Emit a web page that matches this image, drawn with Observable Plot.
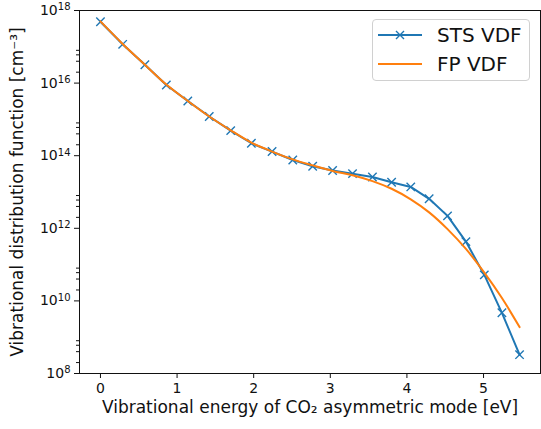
<!DOCTYPE html>
<html>
<head>
<meta charset="utf-8">
<script src="https://cdn.jsdelivr.net/npm/d3@7"></script>
<script src="https://cdn.jsdelivr.net/npm/@observablehq/plot@0.6"></script>
<style>
  html, body { margin: 0; padding: 0; background: white; }
  #wrap { position: relative; width: 541px; height: 429px; font-family: "DejaVu Sans", sans-serif; }
  #legend { position: absolute; left: 372px; top: 19px; width: 158px; height: 62px; box-sizing: border-box;
            border: 1px solid #d0d0d0; border-radius: 4px; background: rgba(255,255,255,0.85); }
  .lrow { position: absolute; left: 0; height: 24px; }
  .lrow svg { position: absolute; left: 5px; top: 0; }
  .lrow span { position: absolute; left: 64px; top: 0; font-size: 20px; line-height: 24px; color: #111; white-space: nowrap; }
</style>
</head>
<body>
<div id="wrap"></div>
<script>
// ---- data ----
const energy = [0, 0.29, 0.58, 0.86, 1.14, 1.42, 1.70, 1.97, 2.24, 2.51, 2.77, 3.03, 3.29, 3.55, 3.80, 4.05, 4.29, 4.53, 4.77, 5.01, 5.24, 5.47];
const stsVdf = [4.9e17, 1.17e17, 3.2e16, 8.9e15, 3.2e15, 1.2e15, 4.9e14, 2.2e14, 1.3e14, 7.6e13, 5.1e13, 3.9e13, 3.2e13, 2.6e13, 1.86e13, 1.38e13, 6.5e12, 2.2e12, 4.3e11, 5.2e10, 4.7e9, 3.3e8];
const fpVdf  = [5.0e17, 1.2e17, 3.2e16, 9.1e15, 3.2e15, 1.2e15, 5.0e14, 2.3e14, 1.3e14, 7.9e13, 5.4e13, 3.8e13, 2.9e13, 2.0e13, 1.23e13, 6.3e12, 2.75e12, 9.5e11, 2.7e11, 6.0e10, 1.2e10, 1.9e9];
const seriesNames = ["STS VDF", "FP VDF"];
const xTicks = [0, 1, 2, 3, 4, 5];
const yTicks = [1e8, 1e10, 1e12, 1e14, 1e16, 1e18];
const yMinorTicks = [2e8, 4e8, 6e8, 8e8, 2e10, 4e10, 6e10, 8e10, 2e12, 4e12, 6e12, 8e12, 2e14, 4e14, 6e14, 8e14, 2e16, 4e16, 6e16, 8e16];
const xLabel = "Vibrational energy of CO\u2082 asymmetric mode [eV]";
const yLabel = "Vibrational distribution function [cm\u207B\u00B3]";

const blue = "#1f77b4", orange = "#ff7f0e";
const sts = energy.map((e, i) => ({e, v: stsVdf[i]}));
const fp = energy.map((e, i) => ({e, v: fpVdf[i]}));

const supDigits = {"0":"\u2070","1":"\u00B9","2":"\u00B2","3":"\u00B3","4":"\u2074","5":"\u2075","6":"\u2076","7":"\u2077","8":"\u2078","9":"\u2079","-":"\u207B"};
const supFmt = d => "10" + String(Math.round(Math.log10(d))).split("").map(c => supDigits[c]).join("");

const chart = Plot.plot({
  width: 541, height: 429,
  marginLeft: 79, marginRight: 1, marginTop: 10, marginBottom: 56,
  style: {fontFamily: "DejaVu Sans, sans-serif", fontSize: "14px", color: "#111", background: "white"},
  x: {domain: [-0.2735, 5.7435]},
  y: {type: "log", domain: [1e8, 1e18]},
  marks: [
    Plot.axisX({ticks: xTicks, tickSize: 5, tickPadding: 5, label: null, tickFormat: d => String(d)}),
    Plot.axisY({ticks: yTicks, tickSize: 5, tickPadding: 4, label: null, tickFormat: supFmt}),
    Plot.axisY({ticks: yMinorTicks, tickSize: 3, label: null, tickFormat: () => ""}),
    Plot.line(sts, {x: "e", y: "v", stroke: blue, strokeWidth: 2}),
    Plot.dot(sts, {x: "e", y: "v", symbol: "times", r: 3.9, stroke: blue, strokeWidth: 1.4}),
    Plot.line(fp, {x: "e", y: "v", stroke: orange, strokeWidth: 2, curve: "catmull-rom"}),
    Plot.frame({stroke: "#111", strokeWidth: 1}),
    Plot.text([xLabel], {frameAnchor: "bottom", dy: 39, fontSize: 17, fill: "#111", textAnchor: "middle"}),
    Plot.text([yLabel], {frameAnchor: "left", rotate: -90, dx: -62, fontSize: 17, fill: "#111", textAnchor: "middle"})
  ]
});

// Render y tick labels as 10 with a raised exponent
const fromSup = {};
for (const k in supDigits) fromSup[supDigits[k]] = k;
d3.select(chart).selectAll("text").each(function() {
  const t = this.textContent;
  const m = /^10([\u2070\u00B9\u00B2\u00B3\u2074-\u2079\u207B]+)$/.exec(t);
  if (!m) return;
  const exp = m[1].split("").map(c => fromSup[c]).join("");
  const sel = d3.select(this);
  sel.text("10");
  sel.append("tspan").attr("dy", "-0.45em").attr("font-size", "10px").text(exp);
});

const wrap = document.getElementById("wrap");
wrap.appendChild(chart);

// legend
const legend = document.createElement("div");
legend.id = "legend";
const rows = [
  {name: seriesNames[0], color: blue, marker: true, top: 3},
  {name: seriesNames[1], color: orange, marker: false, top: 32}
];
for (const r of rows) {
  const row = document.createElement("div");
  row.className = "lrow";
  row.style.top = r.top + "px";
  row.innerHTML = `<svg width="46" height="24"><line x1="0" x2="44" y1="12" y2="12" stroke="${r.color}" stroke-width="2"/>` +
    (r.marker ? `<path d="M18,8L26,16M18,16L26,8" stroke="${r.color}" stroke-width="1.4"/>` : "") +
    `</svg><span>${r.name}</span>`;
  legend.appendChild(row);
}
wrap.appendChild(legend);
</script>
</body>
</html>
